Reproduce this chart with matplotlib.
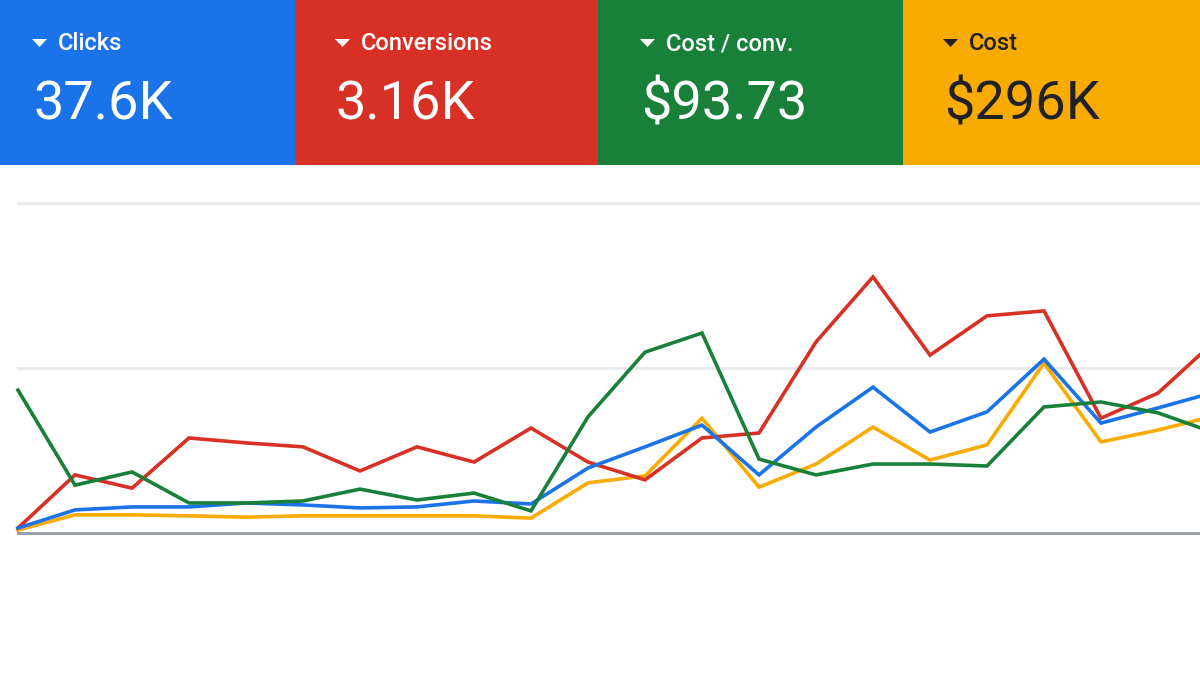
import matplotlib.pyplot as plt
import numpy as np

plt.rcParams['font.family'] = ['Roboto', 'DejaVu Sans']

# metric cards
card_labels = ['Clicks', 'Conversions', 'Cost / conv.', 'Cost']
card_values = ['37.6K', '3.16K', '$93.73', '$296K']
card_colors = ['#1a73e8', '#d93025', '#188038', '#f9ab00']
card_text = ['white', 'white', 'white', '#202124']

# daily series (relative scale, gridlines at 50 and 100)
clicks = [1.5, 7.0, 7.9, 7.9, 9.1, 8.5, 7.6, 7.9, 9.7, 8.8, 19.7, 26.1,
          32.7, 17.6, 32.1, 44.2, 30.6, 36.7, 52.7, 33.3, 37.9, 42.7]
conversions = [1.5, 17.6, 13.6, 28.8, 27.3, 26.1, 18.8, 26.1, 21.5, 31.8, 21.5, 16.1,
               28.8, 30.3, 57.9, 77.6, 53.9, 65.8, 67.3, 34.8, 42.4, 58.2]
cost_per_conv = [43.3, 14.5, 18.5, 9.1, 9.1, 9.7, 13.3, 10.0, 12.1, 6.7, 35.2, 54.8,
                 60.6, 22.4, 17.6, 20.9, 20.9, 20.3, 38.2, 39.7, 36.4, 30.3]
cost = [0.9, 5.5, 5.5, 5.2, 4.8, 5.2, 5.2, 5.2, 5.2, 4.5, 15.2, 17.3,
        34.8, 13.9, 20.9, 32.1, 22.1, 26.7, 51.5, 27.6, 31.2, 35.5]

fig = plt.figure(figsize=(12, 7), dpi=100)

# header cards drawn in pixel coordinates
top = fig.add_axes([0, 0, 1, 1])
top.set_xlim(0, 1200)
top.set_ylim(700, 0)
top.axis('off')
card_edges = [0, 295, 598, 903, 1200]
text_left = [32, 335, 640, 943]
for i in range(4):
    x0 = card_edges[i]
    tx = text_left[i]
    top.add_patch(plt.Rectangle((x0, 0), card_edges[i + 1] - x0, 165,
                                color=card_colors[i], lw=0))
    # little drop-down triangle
    top.add_patch(plt.Polygon([(tx, 39), (tx + 15, 39), (tx + 7.5, 47)],
                              closed=True, color=card_text[i], lw=0))
    top.text(tx + 26, 44, card_labels[i], color=card_text[i], fontsize=17,
             fontweight='medium', va='center', ha='left')
    top.text(tx + 1, 105, card_values[i], color=card_text[i], fontsize=39,
             va='center', ha='left')

# line chart
ax = fig.add_axes([18 / 1200, 167 / 700, 1 - 18 / 1200, 330 / 700])
x = np.arange(len(clicks))
for ys in (50, 100):
    ax.axhline(ys, color='#e8eaed', lw=2.2, zorder=0)
ax.axhline(0, color='#9aa0a6', lw=2.2, zorder=1)
ax.plot(x, cost, color='#f9ab00', lw=2.6, zorder=3)
ax.plot(x, clicks, color='#1a73e8', lw=2.6, zorder=4)
ax.plot(x, conversions, color='#d93025', lw=2.6, zorder=3)
ax.plot(x, cost_per_conv, color='#188038', lw=2.6, zorder=5)
ax.set_xlim(0, (1200 - 18) / 57)
ax.set_ylim(0, 100)
ax.axis('off')
for ln in ax.lines:
    ln.set_clip_on(False)
    ln.set_solid_joinstyle('miter')

fig.savefig('out.png', dpi=100)
